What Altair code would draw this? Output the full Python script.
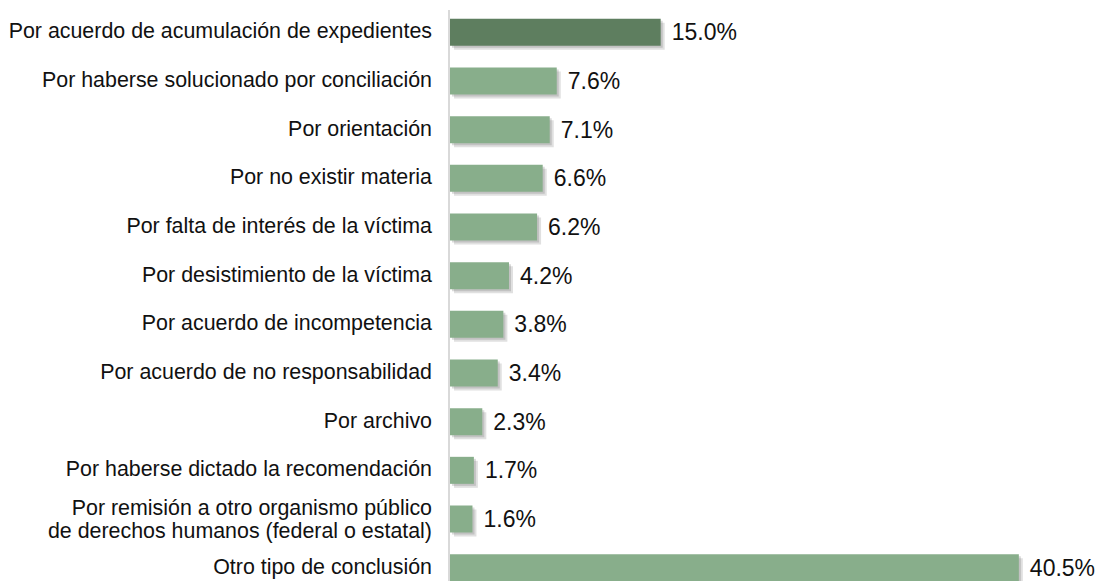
import altair as alt
import pandas as pd

categories = [
    "Por acuerdo de acumulación de expedientes",
    "Por haberse solucionado por conciliación",
    "Por orientación",
    "Por no existir materia",
    "Por falta de interés de la víctima",
    "Por desistimiento de la víctima",
    "Por acuerdo de incompetencia",
    "Por acuerdo de no responsabilidad",
    "Por archivo",
    "Por haberse dictado la recomendación",
    "Por remisión a otro organismo público\nde derechos humanos (federal o estatal)",
    "Otro tipo de conclusión",
]
values = [15.0, 7.6, 7.1, 6.6, 6.2, 4.2, 3.8, 3.4, 2.3, 1.7, 1.6, 40.5]
highlight = [True] + [False] * 11

df = pd.DataFrame({"cat": categories, "val": values, "hl": highlight})
df["lbl"] = df["val"].map(lambda v: f"{v:.1f}%")
df["multi"] = df["cat"].str.contains("\n")

FONT = "Liberation Sans"
W = 618
H = 573

y_enc = alt.Y("cat:N", sort=categories, axis=None,
              scale=alt.Scale(range=[0, 584], paddingInner=0.445, paddingOuter=0.2225))
x_scale = alt.Scale(domain=[0, 44], nice=False, zero=True)

base = alt.Chart(df)

shadow1 = base.mark_bar(color="#555555", opacity=0.18, xOffset=4, yOffset=4).encode(
    x=alt.X("val:Q", scale=x_scale, axis=None), y=y_enc)
shadow2 = base.mark_bar(color="#555555", opacity=0.22, xOffset=2, yOffset=2).encode(
    x=alt.X("val:Q", scale=x_scale, axis=None), y=y_enc)

bars = base.mark_bar().encode(
    x=alt.X("val:Q", scale=x_scale, axis=None),
    y=y_enc,
    color=alt.Color("hl:N", scale=alt.Scale(domain=[True, False], range=["#5E7E5F", "#88AE8B"]), legend=None),
)

vals = base.mark_text(align="left", baseline="middle", dx=11, dy=1, fontSize=23, font=FONT, color="#111111").encode(
    x=alt.X("val:Q", scale=x_scale, axis=None), y=y_enc, text="lbl:N")

cats_single = base.transform_filter("!datum.multi").mark_text(
    align="right", baseline="middle", fontSize=21.4, font=FONT, color="#111111").encode(
    x=alt.value(-18), y=y_enc, text="cat:N")

cats_multi = base.transform_filter("datum.multi").mark_text(
    align="right", baseline="middle", fontSize=21.4, font=FONT, color="#111111",
    lineBreak="\n", lineHeight=23, dy=-10).encode(
    x=alt.value(-18), y=y_enc, text="cat:N")

axis_line = base.mark_rule(color="#d9d9d9", strokeWidth=2).encode(
    x=alt.value(-1), y=alt.value(2), y2=alt.value(H))

chart = alt.layer(axis_line, shadow1, shadow2, bars, vals, cats_single, cats_multi).properties(
    width=W, height=H,
    autosize=alt.AutoSizeParams(type="none"),
    padding={"left": 442, "top": 0, "right": 30, "bottom": 0},
).configure_view(stroke=None)

chart.save("out.html", embed_options={"renderer": "svg", "actions": False})
